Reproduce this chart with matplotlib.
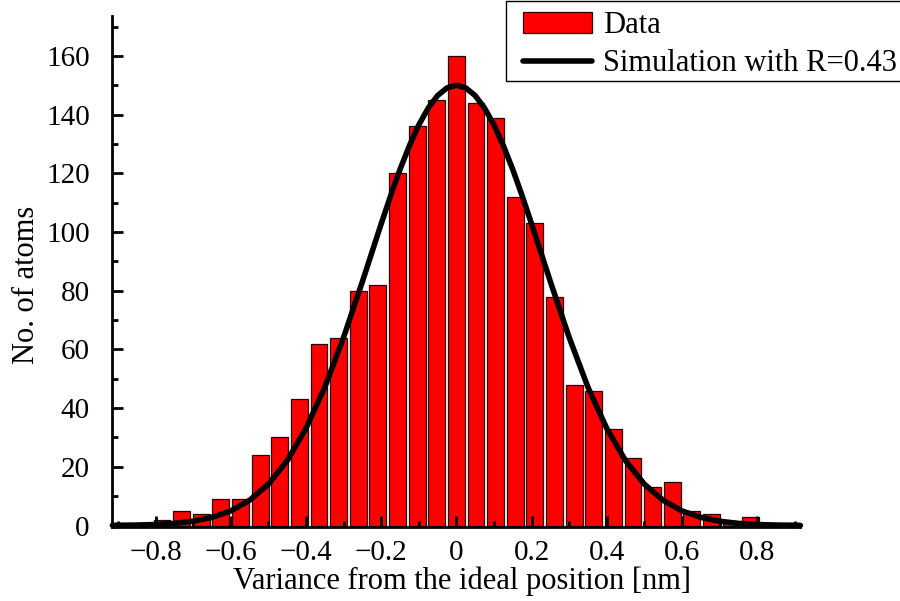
import numpy as np
import matplotlib
matplotlib.use("Agg")
from matplotlib import pyplot as plt
from matplotlib.ticker import MultipleLocator, FuncFormatter
from matplotlib.patches import Rectangle

plt.rcParams['font.family'] = ['Liberation Serif', 'DejaVu Serif']

# histogram data (bins of ~0.0522 nm, centred on 0)
bin_width = 0.0522
bin_index = np.arange(-17, 18)
counts = [1, 1, 2, 5, 4, 9, 9, 24, 30, 43, 62, 64, 80, 82, 120, 136, 145,
          160,
          144, 139, 112, 103, 78, 48, 46, 33, 23, 13, 15, 5, 4, 1, 3, 1, 1]

# simulation curve
sim_x = [-0.915, -0.85, -0.8, -0.75, -0.7, -0.65, -0.6, -0.55, -0.5, -0.45,
         -0.4, -0.35, -0.3, -0.25, -0.2, -0.175, -0.15, -0.125, -0.1, -0.075,
         -0.05, -0.025, 0.0, 0.025, 0.05, 0.075, 0.1, 0.125, 0.15, 0.175,
         0.2, 0.25, 0.3, 0.35, 0.4, 0.45, 0.5, 0.55, 0.6, 0.65, 0.7, 0.75,
         0.8, 0.85, 0.915]
sim_y = [0.05, 0.16, 0.35, 0.74, 1.46, 2.77, 4.99, 8.6, 14.1, 22.1,
         33.1, 47.1, 64.1, 83.1, 102.8, 112.3, 121.3, 129.4, 136.5, 142.2,
         146.5, 149.1, 150.0, 149.1, 146.5, 142.2, 136.5, 129.4, 121.3, 112.3,
         102.8, 83.1, 64.1, 47.1, 33.1, 22.1, 14.1, 8.6, 4.99, 2.77, 1.46, 0.74,
         0.35, 0.16, 0.05]

x_ticks = [-0.8, -0.6, -0.4, -0.2, 0, 0.2, 0.4, 0.6, 0.8]

fig = plt.figure(figsize=(9, 6.01), dpi=100)
ax = fig.add_axes([112/900, 1-527/601, 688/900, 511/601])

bin_centers = bin_index * bin_width
bars = ax.bar(bin_centers, counts, width=0.045, color='#ff0000',
              edgecolor='#2a0000', linewidth=0.9, label='Data', zorder=1)
line, = ax.plot(sim_x, sim_y, color='black', lw=4.0, solid_capstyle='round',
                label='Simulation with R=0.43', zorder=3, clip_on=False)

ax.set_xlim(-0.916, 0.914)
ax.set_ylim(-0.5, 173.6)

for s in ['top', 'right']:
    ax.spines[s].set_visible(False)
for s in ['left', 'bottom']:
    ax.spines[s].set_linewidth(2.0)
    ax.spines[s].set_zorder(4)

ax.set_xticks(x_ticks)
ax.xaxis.set_minor_locator(MultipleLocator(0.1))
ax.yaxis.set_major_locator(MultipleLocator(20))
ax.yaxis.set_minor_locator(MultipleLocator(10))
ax.set_yticks(np.arange(0, 161, 20))


def fmt(v, pos):
    if abs(v) < 1e-9:
        return '0'
    return ('%g' % v).replace('-', '\u2212')


ax.xaxis.set_major_formatter(FuncFormatter(fmt))
ax.tick_params(which='major', direction='in', length=8, width=2, labelsize=21)
ax.tick_params(which='minor', direction='in', length=4.5, width=2)
ax.tick_params(axis='y', which='major', pad=16)
ax.tick_params(axis='x', which='major', pad=9)

fig.text(462/900, 1-589/601, 'Variance from the ideal position [nm]',
         fontsize=22, ha='center', va='baseline')
fig.text(27/900, 1-285/601, 'No. of atoms', fontsize=22, rotation=90,
         ha='center', va='center')

# legend box runs off the right edge of the figure, as in the original
frame = Rectangle((506/900, 1-81/601), 430/900, 80/601,
                  transform=fig.transFigure, facecolor='white',
                  edgecolor='black', linewidth=1.0, zorder=5)
fig.add_artist(frame)
leg = fig.legend([bars, line], ['Data', 'Simulation with R=0.43'],
                 loc='upper left', bbox_to_anchor=(523/900, 1-11/601),
                 bbox_transform=fig.transFigure, fontsize=22, frameon=False,
                 borderaxespad=0, borderpad=0, handlelength=2.25,
                 handletextpad=0.36, labelspacing=0.31)
leg.set_zorder(6)

fig.savefig('out.png', dpi=100)
